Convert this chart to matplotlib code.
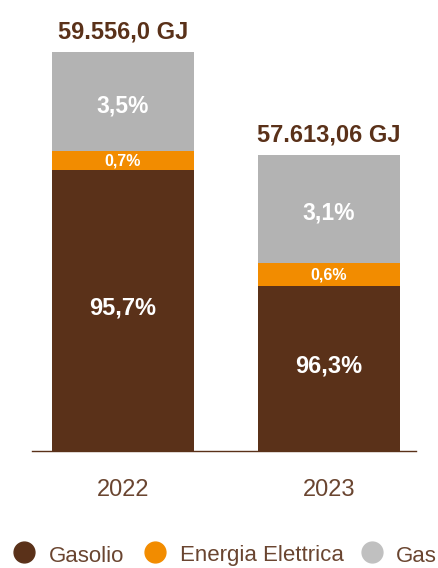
import matplotlib.pyplot as plt
from matplotlib.lines import Line2D
from matplotlib import font_manager
import numpy as np

plt.rcParams['font.family'] = ['Liberation Sans', 'DejaVu Sans']

years = ['2022', '2023']
totals = ['59.556,0 GJ', '57.613,06 GJ']
series = ['Gasolio', 'Energia Elettrica', 'Gas']
# stacked segment heights as drawn (chart units)
gasolio = [281, 165]
energia = [19, 23]
gas = [99, 108]
pct_gasolio = ['95,7%', '96,3%']
pct_energia = ['0,7%', '0,6%']
pct_gas = ['3,5%', '3,1%']

brown = '#5a3119'
orange = '#f28c00'
grey = '#b3b3b3'
text_brown = '#6a4530'

names = {f.name for f in font_manager.fontManager.ttflist}
narrow = 'Liberation Sans Narrow' in names

W, H = 439, 568
fig = plt.figure(figsize=(W / 100, H / 100), dpi=100)
base = 451
ax = fig.add_axes([32 / W, (H - base) / H, 384 / W, base / H])

x = np.arange(len(years))
width = 0.69
b1 = np.array(gasolio)
b2 = b1 + np.array(energia)
ax.bar(x, gasolio, width, color=brown)
ax.bar(x, energia, width, bottom=b1, color=orange)
ax.bar(x, gas, width, bottom=b2, color=grey)

for i in range(len(years)):
    ax.text(x[i], gasolio[i] / 2 + 3, pct_gasolio[i], ha='center', va='center',
            color='white', fontsize=17, fontweight='bold')
    ax.text(x[i], b1[i] + energia[i] / 2, pct_energia[i], ha='center', va='center',
            color='white', fontsize=11.5, fontweight='bold')
    ax.text(x[i], b2[i] + gas[i] / 2 - 4, pct_gas[i], ha='center', va='center',
            color='white', fontsize=16.5, fontweight='bold')
    top = b2[i] + gas[i]
    ax.annotate(totals[i], (x[i], top), xytext=(0, 14.5), textcoords='offset points',
                ha='center', va='center', color=brown, fontsize=17, fontweight='bold')
    ax.text(x[i], -39, years[i], ha='center', va='center', color=text_brown, fontsize=17)

ax.set_xlim(-0.442, 1.422)
ax.set_ylim(0, base)
for s in ['top', 'right', 'left']:
    ax.spines[s].set_visible(False)
ax.spines['bottom'].set_color(brown)
ax.spines['bottom'].set_linewidth(1)
ax.set_xticks([])
ax.set_yticks([])

# legend along the bottom edge
leg_colors = [brown, orange, '#c0c0c0']
dot_x = [24.5, 155, 372]
txt_x = [49, 180, 396]
dot_y = 1 - 552 / H
txt_y = 1 - 561.5 / H
leg_font = ['Liberation Sans Narrow', 'DejaVu Sans'] if narrow else ['Liberation Sans', 'DejaVu Sans']
leg_size = 19 if narrow else 16
for c, dx, tx, name in zip(leg_colors, dot_x, txt_x, series):
    fig.add_artist(Line2D([dx / W], [dot_y], marker='o', markersize=15, color=c,
                          linestyle='none', transform=fig.transFigure))
    fig.text(tx / W, txt_y, name, ha='left', va='baseline', color=text_brown,
             fontsize=leg_size, family=leg_font)

fig.savefig('out.png', dpi=100)
